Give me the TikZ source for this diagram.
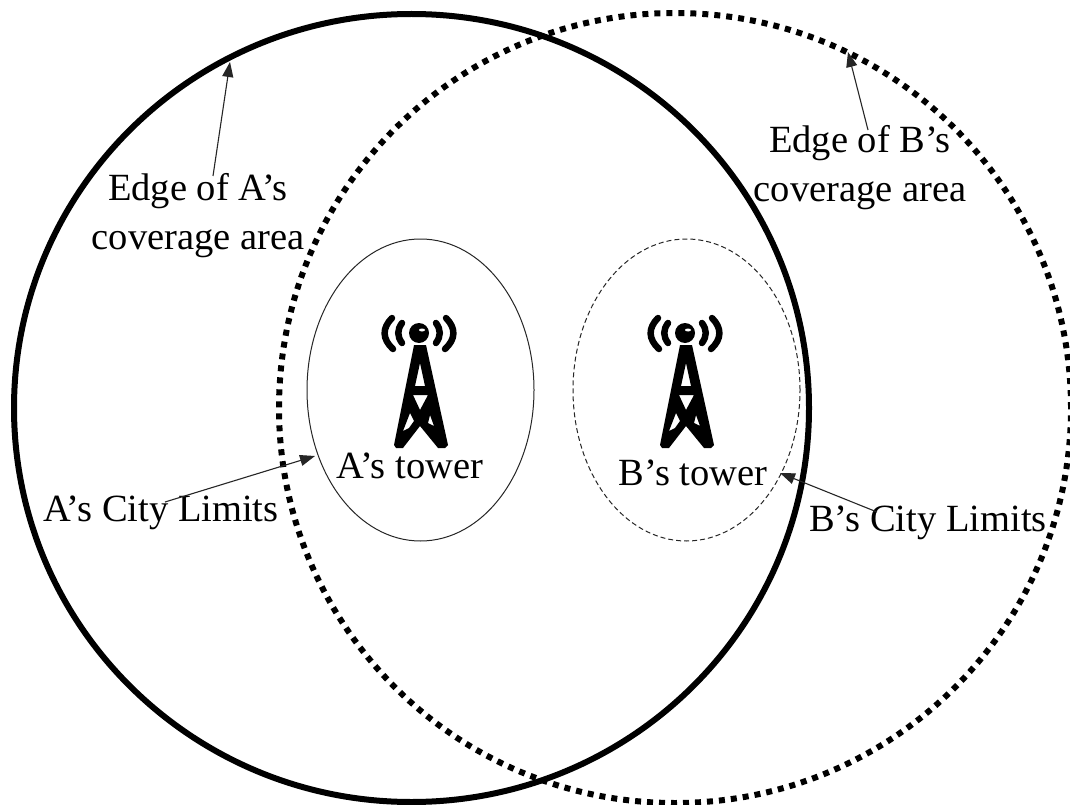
\documentclass[tikz,border=0pt]{standalone}
\usepackage{fontspec}
\setmainfont{Liberation Serif}
\usetikzlibrary{arrows.meta,shapes.geometric}
\tikzset{
  x=1pt,y=-1pt,
  lbl/.style={font=\fontsize{38.5}{49}\selectfont,align=center,inner sep=0pt,text=black},
  conn/.style={draw=black!85,line width=1.1pt,-{Triangle[length=15pt,width=11pt]}},
  oval/.style={ellipse,inner sep=0pt,outer sep=0pt},
  covA/.style={oval,draw=black,line width=6pt},
  covB/.style={oval,draw=black,line width=6pt,dash pattern=on 6pt off 6pt},
  cityA/.style={oval,draw=black!85,line width=1pt},
  cityB/.style={oval,draw=black!85,line width=1pt,dash pattern=on 5pt off 3pt},
  wave/.style={line width=6.5pt,line cap=round},
  pics/radiotower/.style={code={
    \fill (0,0) circle (10);
    \fill[white] (3,-3) ellipse (3 and 1.5);
    \draw[wave] (-17,-10) .. controls (-22,-3) and (-22,3) .. (-17,10);
    \draw[wave] (17,-10) .. controls (22,-3) and (22,3) .. (17,10);
    \draw[wave] (-27,-15) .. controls (-37,-5) and (-37,6) .. (-26,16);
    \draw[wave] (27,-15) .. controls (37,-5) and (37,6) .. (26,16);
    \fill[even odd rule]
      (-5,12) -- (7,12) -- (29,112) -- (26,115) -- (19,115) -- (1,93) -- (-16,115) -- (-23,115) -- (-25,112) -- cycle
      (1,30) -- (-4,53) -- (6,53) -- cycle
      (-6,62) -- (9,62) -- (1,77) -- cycle
      (-9,80) -- (-16,98) -- (-10,95) -- (-5,88) -- cycle
      (11,82) -- (9,90) -- (15,93) -- cycle;
  }}
}
\begin{document}
\begin{tikzpicture}
\useasboundingbox (0,0) rectangle (1070,805);
\fill[white] (0,0) rectangle (1070,805);
\node[covA,minimum width=795pt,minimum height=788pt] (covera) at (411.5,408) {};
\node[covB,minimum width=792pt,minimum height=790pt] (coverb) at (675,408) {};
\node[cityA,minimum width=227pt,minimum height=302pt] (citya) at (420.5,390) {};
\node[cityB,minimum width=227pt,minimum height=302pt] (cityb) at (686.5,390) {};
\pic at (419,333) {radiotower};
\pic at (685,333) {radiotower};
\node[lbl] (edgea) at (198,216) {Edge of A’s\\coverage area};
\node[lbl] (edgeb) at (860,168) {Edge of B’s\\coverage area};
\node[lbl] (towera) at (410,466) {A’s tower};
\node[lbl] (towerb) at (693,473) {B’s tower};
\node[lbl] (labcitya) at (161,513) {A’s City Limits};
\node[lbl] (labcityb) at (928,523) {B’s City Limits};
\coordinate (tipedgea) at (230,62);
\coordinate (tipedgeb) at (848,52);
\coordinate (tipcitya) at (315,456);
\coordinate (tipcityb) at (780,473);
\coordinate (fromedgea) at (213,176);
\coordinate (fromedgeb) at (868,130);
\coordinate (fromcitya) at (165,502);
\coordinate (fromcityb) at (877,512);
\draw[conn] (fromedgea) -- (tipedgea);
\draw[conn] (fromedgeb) -- (tipedgeb);
\draw[conn] (fromcitya) -- (tipcitya);
\draw[conn] (fromcityb) -- (tipcityb);
\end{tikzpicture}
\end{document}
